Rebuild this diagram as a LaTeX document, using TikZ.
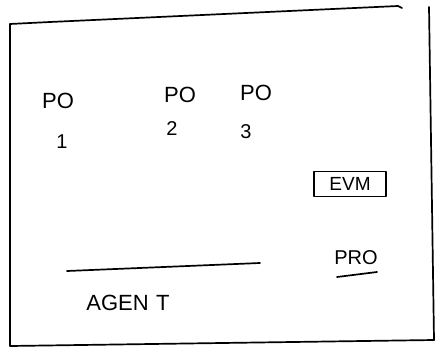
\documentclass[tikz,border=0pt]{standalone}
\usepackage{fontspec}
\setmainfont{Liberation Sans}
\begin{document}
\begin{tikzpicture}[x=1pt,y=-1pt,
  hand/.style={line width=1.7pt,line cap=round,line join=round},
  lbl/.style={font=\fontsize{22}{24}\selectfont,inner sep=1pt},
  num/.style={font=\fontsize{20}{22}\selectfont,inner sep=1pt}]
\useasboundingbox (0,0) rectangle (438,350);
% frame
\coordinate (tl) at (10,24);
\coordinate (tr) at (398,6);
\coordinate (bl) at (10,346);
\coordinate (br) at (434,340);
\coordinate (rt) at (429,7);
\draw[hand] (tl) -- (50,22) -- (tr) -- (402,8);
\draw[hand] (tl) -- (bl) -- (br);
\draw[hand] (rt) -- (br);
% labels
\node[lbl] (po1) at (58,101) {PO};
\node[num] (n1) at (62,142) {1};
\node[lbl] (po2) at (180,95) {PO};
\node[num] (n2) at (172,129) {2};
\node[lbl] (po3) at (256,93) {PO};
\node[num] (n3) at (246,132) {3};
\node[draw,hand,font=\fontsize{19}{21}\selectfont,minimum width=72pt,minimum height=25pt,inner sep=1pt] (evm) at (350,184) {EVM};
\node[lbl,font=\fontsize{20}{22}\selectfont] (pro) at (356,258) {PRO};
\draw[hand] (337,277) -- (377,272);
\coordinate (la) at (67,271);
\coordinate (lb) at (260,263);
\draw[hand] (la) -- (lb);
\node[lbl] (agent) at (128,303) {AGEN\,\,T};
\end{tikzpicture}
\end{document}
